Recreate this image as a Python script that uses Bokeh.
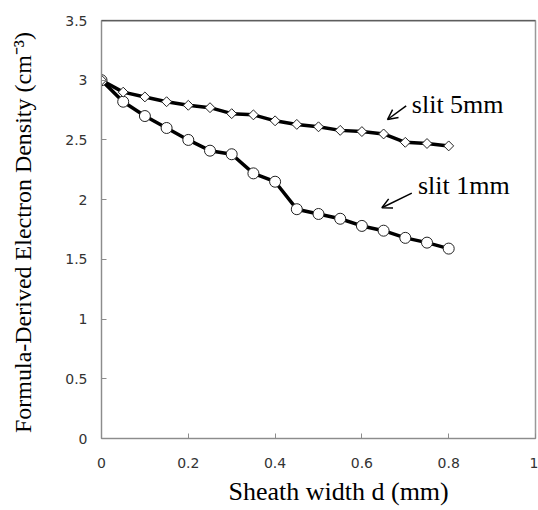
import math
from bokeh.plotting import figure
from bokeh.models import FixedTicker, Arrow, OpenHead, Span, Label, Title, ColumnDataSource, Range1d
from bokeh.embed import file_html
from bokeh.resources import INLINE

# ---- data ----
sheath_width = [0.0, 0.05, 0.1, 0.15, 0.2, 0.25, 0.3, 0.35, 0.4, 0.45, 0.5, 0.55, 0.6, 0.65, 0.7, 0.75, 0.8]
slit_5mm = [3.0, 2.90, 2.86, 2.82, 2.79, 2.77, 2.72, 2.71, 2.66, 2.63, 2.61, 2.58, 2.57, 2.55, 2.48, 2.47, 2.45]
slit_1mm = [3.0, 2.82, 2.70, 2.60, 2.50, 2.41, 2.38, 2.22, 2.15, 1.92, 1.88, 1.84, 1.78, 1.74, 1.68, 1.64, 1.59]

x_ticks = [0, 0.2, 0.4, 0.6, 0.8, 1]
x_tick_labels = ["0", "0.2", "0.4", "0.6", "0.8", "1"]
y_ticks = [0, 0.5, 1, 1.5, 2, 2.5, 3, 3.5]
y_tick_labels = ["0", "0.5", "1", "1.5", "2", "2.5", "3", "3.5"]

series_labels = ["slit 5mm", "slit 1mm"]
x_title = "Sheath width d (mm)"
y_title = "Formula-Derived Electron Density  (cm\u207b\u00b3)"

X_MAX = 1.0
Y_MAX = 3.5

SERIF = "Liberation Serif"
SANS = "DejaVu Sans"

p = figure(width=538, height=510, output_backend="svg", toolbar_location=None,
           x_range=Range1d(0, X_MAX), y_range=Range1d(0, Y_MAX),
           min_border_left=101, min_border_right=3, min_border_top=20, min_border_bottom=72)

p.xgrid.visible = False
p.ygrid.visible = False
p.outline_line_color = "#999999"
p.outline_line_width = 1.5
p.background_fill_color = "white"
p.border_fill_color = "white"

for ax in (p.xaxis[0], p.yaxis[0]):
    ax.axis_line_color = "#8c8c8c"
    ax.major_tick_line_color = "#8c8c8c"
    ax.major_tick_in = 5
    ax.major_tick_out = 0
    ax.minor_tick_line_color = None
    ax.major_label_text_font = SANS
    ax.major_label_text_font_size = "14px"
    ax.major_label_text_color = "#333333"
    ax.axis_label_text_font = SERIF
    ax.axis_label_text_font_style = "normal"
    ax.axis_label_text_color = "#000000"

p.yaxis.axis_label_text_font_size = "24px"

p.xaxis.ticker = FixedTicker(ticks=x_ticks)
p.xaxis.major_label_overrides = dict(zip(x_ticks, x_tick_labels))
p.yaxis.ticker = FixedTicker(ticks=y_ticks)
p.yaxis.major_label_overrides = dict(zip(y_ticks, y_tick_labels))

p.yaxis.axis_label = y_title
p.xaxis.major_label_standoff = 19
p.yaxis.major_label_standoff = 14
p.yaxis.axis_label_standoff = 26

# x-axis title, right of centre as in the original
p.add_layout(Title(text=x_title, align="left", offset=127, standoff=8,
                   text_font=SERIF, text_font_size="26px", text_font_style="normal",
                   text_color="black"), "below")

# top border darker
p.add_layout(Span(location=Y_MAX, dimension="width", line_color="#222222", line_width=1.5))

src = ColumnDataSource(dict(x=sheath_width, s5=slit_5mm, s1=slit_1mm))

p.line("x", "s1", source=src, line_color="black", line_width=3.5)
p.line("x", "s5", source=src, line_color="black", line_width=3.5)
p.scatter("x", "s1", source=src, marker="circle", size=11, fill_color="white",
          line_color="#222222", line_width=1)
p.scatter("x", "s5", source=src, marker="square", size=7, angle=math.pi / 4,
          fill_color="white", line_color="#222222", line_width=1)

# annotations
p.add_layout(Label(x=0.715, y=2.795, text=series_labels[0], text_font=SERIF,
                   text_font_size="26px", text_baseline="alphabetic", text_color="black"))
p.add_layout(Label(x=0.729, y=2.115, text=series_labels[1], text_font=SERIF,
                   text_font_size="26px", text_baseline="alphabetic", text_color="black"))
p.add_layout(Arrow(x_start=0.702, y_start=2.786, x_end=0.659, y_end=2.671,
                   line_width=1.5, line_color="black",
                   end=OpenHead(size=10, line_width=1.5, line_color="black")))
p.add_layout(Arrow(x_start=0.715, y_start=2.054, x_end=0.646, y_end=1.932,
                   line_width=1.5, line_color="black",
                   end=OpenHead(size=10, line_width=1.5, line_color="black")))

open("out.html", "w").write(file_html(p, INLINE))
